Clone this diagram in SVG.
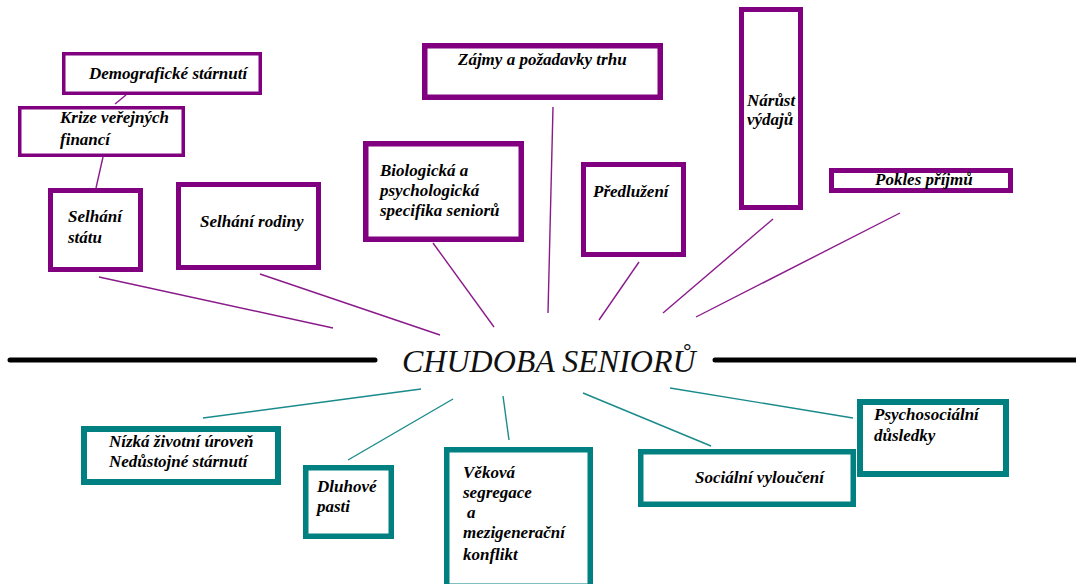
<svg xmlns="http://www.w3.org/2000/svg" width="1076" height="584" viewBox="0 0 1076 584">
<style>
.p{fill:#fff;stroke:#800080}
.t{fill:#fff;stroke:#008080}
.lbl{font-family:"Liberation Serif","Times New Roman",serif;font-style:italic;font-weight:bold;font-size:17px;fill:#000}
.cp{stroke:#8a1a8a;stroke-width:1.4;fill:none}
.ct{stroke:#1a8a8a;stroke-width:1.4;fill:none}
</style>
<rect width="1076" height="584" fill="#fff"/>
<g id="connectors">
<line class="cp" x1="126" y1="95" x2="115" y2="104"/>
<line class="cp" x1="103" y1="157" x2="96" y2="188"/>
<line class="cp" x1="99" y1="277" x2="333" y2="328"/>
<line class="cp" x1="260" y1="274" x2="440" y2="335"/>
<line class="cp" x1="433" y1="243" x2="494" y2="327"/>
<line class="cp" x1="553" y1="107" x2="548" y2="313"/>
<line class="cp" x1="639" y1="262" x2="599" y2="320"/>
<line class="cp" x1="773" y1="219" x2="663" y2="313"/>
<line class="cp" x1="900" y1="213" x2="696" y2="317"/>
<line class="ct" x1="203" y1="418" x2="421" y2="389"/>
<line class="ct" x1="453" y1="399" x2="348" y2="460"/>
<line class="ct" x1="503" y1="396" x2="509" y2="440"/>
<line class="ct" x1="583" y1="393" x2="711" y2="446"/>
<line class="ct" x1="670" y1="388" x2="853" y2="418"/>
</g>
<g id="axis">
<line x1="10" y1="360" x2="375" y2="360" stroke="#000" stroke-width="5" stroke-linecap="round"/>
<line x1="715" y1="360" x2="1080" y2="360" stroke="#000" stroke-width="5" stroke-linecap="round"/>
</g>
<g id="title">
<text x="402" y="372" font-family="Liberation Serif, Times New Roman, serif" font-style="italic" font-size="32" fill="#111">CHUDOBA SENIORŮ</text>
</g>
<g id="demograficke">
<rect class="p" x="63.75" y="53.75" width="196.5" height="39.5" stroke-width="3.5"/>
<text class="lbl" x="89" y="79">Demografické stárnutí</text>
</g>
<g id="krize">
<rect class="p" x="19.75" y="107.75" width="163.5" height="47.5" stroke-width="3.5"/>
<text class="lbl" x="60" y="123">Krize veřejných</text>
<text class="lbl" x="60" y="145">financí</text>
</g>
<g id="selhani-statu">
<rect class="p" x="50.5" y="190.5" width="90" height="79" stroke-width="5"/>
<text class="lbl" x="68" y="222">Selhání</text>
<text class="lbl" x="68" y="243">státu</text>
</g>
<g id="selhani-rodiny">
<rect class="p" x="178.5" y="184.5" width="140" height="83" stroke-width="5"/>
<text class="lbl" x="200" y="227">Selhání rodiny</text>
</g>
<g id="zajmy">
<rect class="p" x="424.75" y="45.75" width="235.5" height="51.5" stroke-width="5.5"/>
<text class="lbl" x="458" y="65">Zájmy a požadavky trhu</text>
</g>
<g id="biologicka">
<rect class="p" x="365.75" y="143.75" width="155.5" height="95.5" stroke-width="5.5"/>
<text class="lbl" x="380" y="176">Biologická a</text>
<text class="lbl" x="380" y="196">psychologická</text>
<text class="lbl" x="380" y="216">specifika seniorů</text>
</g>
<g id="predluzeni">
<rect class="p" x="583.5" y="164.5" width="100" height="90" stroke-width="5"/>
<text class="lbl" x="593" y="197">Předlužení</text>
</g>
<g id="narust">
<rect class="p" x="741.5" y="9.5" width="59" height="198" stroke-width="5"/>
<text class="lbl" x="747" y="106">Nárůst</text>
<text class="lbl" x="747" y="125">výdajů</text>
</g>
<g id="pokles">
<rect class="p" x="831.5" y="170.5" width="179" height="20" stroke-width="5"/>
<text class="lbl" x="875" y="185">Pokles příjmů</text>
</g>
<g id="nizka">
<rect class="t" x="84" y="429" width="194" height="53" stroke-width="6"/>
<text class="lbl" x="109" y="447">Nízká životní úroveň</text>
<text class="lbl" x="109" y="467">Nedůstojné stárnutí</text>
</g>
<g id="dluhove">
<rect class="t" x="305.75" y="467.75" width="85.5" height="68.5" stroke-width="5.5"/>
<text class="lbl" x="317" y="492">Dluhové</text>
<text class="lbl" x="317" y="512">pasti</text>
</g>
<g id="vekova">
<rect class="t" x="446.75" y="449.75" width="143.5" height="136.5" stroke-width="5.5"/>
<text class="lbl" x="463" y="478">Věková</text>
<text class="lbl" x="463" y="498">segregace</text>
<text class="lbl" x="467" y="518">a</text>
<text class="lbl" x="463" y="538">mezigenerační</text>
<text class="lbl" x="463" y="560">konflikt</text>
</g>
<g id="socialni">
<rect class="t" x="640.75" y="451.75" width="212.5" height="52.5" stroke-width="5.5"/>
<text class="lbl" x="695" y="483">Sociální vyloučení</text>
</g>
<g id="psychosocialni">
<rect class="t" x="860" y="402" width="146" height="72" stroke-width="6"/>
<text class="lbl" x="874" y="420">Psychosociální</text>
<text class="lbl" x="874" y="441">důsledky</text>
</g>
</svg>
